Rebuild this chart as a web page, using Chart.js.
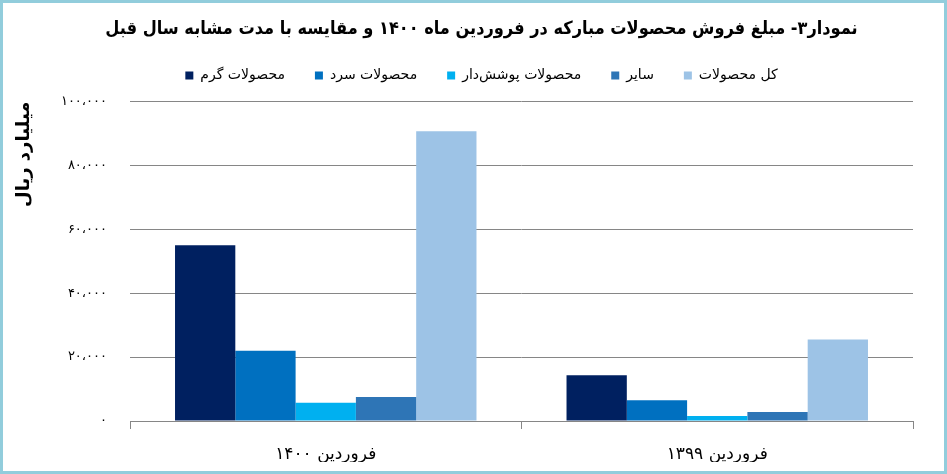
<!DOCTYPE html>
<html>
<head>
<meta charset="utf-8">
<script src="https://cdn.jsdelivr.net/npm/chart.js@4.4.1/dist/chart.umd.min.js"></script>
<style>
  html, body { margin: 0; padding: 0; background: #fff; }
  #wrap { position: relative; width: 947px; height: 474px; }
  #frame { position: absolute; left: 0; top: 0; width: 947px; height: 474px; box-sizing: border-box; border: 3px solid #92cddc; pointer-events: none; }
</style>
</head>
<body>
<div id="wrap">
  <canvas id="salesChart" dir="rtl" width="947" height="474"></canvas>
  <div id="frame"></div>
</div>
<script>
  // data (billion rials)
  const categories = ['فروردین ۱۴۰۰', 'فروردین ۱۳۹۹'];
  const seriesNames = ['محصولات گرم', 'محصولات سرد', 'محصولات پوشش‌دار', 'سایر', 'کل محصولات'];
  const hotValues = [55000, 14300];
  const coldValues = [22000, 6500];
  const coatedValues = [5700, 1600];
  const otherValues = [7500, 2800];
  const totalValues = [90700, 25500];
  const yTickLabels = ['۰', '۲۰،۰۰۰', '۴۰،۰۰۰', '۶۰،۰۰۰', '۸۰،۰۰۰', '۱۰۰،۰۰۰'];

  const colors = ['#002060', '#0070c0', '#00b0f0', '#2e75b6', '#9dc3e6'];
  const fontFa = "'DejaVu Sans', sans-serif";

  // extra room under the legend
  const legendSpacer = {
    id: 'legendSpacer',
    beforeInit(chart) {
      const origFit = chart.legend.fit;
      chart.legend.fit = function () {
        origFit.bind(chart.legend)();
        this.height += 9;
      };
    }
  };

  const values = [hotValues, coldValues, coatedValues, otherValues, totalValues];

  const ctx = document.getElementById('salesChart').getContext('2d');
  const salesChart = new Chart(ctx, {
    type: 'bar',
    data: {
      labels: categories,
      datasets: seriesNames.map((name, i) => ({
        label: name,
        data: values[i],
        backgroundColor: colors[i],
        borderWidth: 0,
        categoryPercentage: 0.77,
        barPercentage: 1.0
      }))
    },
    options: {
      responsive: false,
      animation: false,
      layout: { padding: { left: 16, right: 0, top: 0, bottom: 12 } },
      plugins: {
        title: {
          display: true,
          text: 'نمودار۳- مبلغ فروش محصولات مبارکه در فروردین ماه ۱۴۰۰ و مقایسه با مدت مشابه سال قبل',
          color: '#000',
          font: { family: "'DejaVu Sans Condensed', 'DejaVu Sans', sans-serif", size: 18, weight: 'bold' },
          padding: { top: 19, bottom: -2 }
        },
        legend: {
          display: true,
          position: 'top',
          labels: {
            color: '#000',
            boxWidth: 8,
            boxHeight: 8,
            padding: 30,
            font: { family: fontFa, size: 14 }
          }
        },
        tooltip: { enabled: false }
      },
      scales: {
        x: {
          afterFit: (scale) => { scale.height = 41; },
          grid: { display: true, drawOnChartArea: false, color: '#868686', tickLength: 8 },
          border: { display: true, color: '#868686' },
          ticks: { color: '#000', padding: 15, font: { family: fontFa, size: 17 } }
        },
        y: {
          min: 0,
          max: 100000,
          afterFit: (scale) => { scale.width = 114; },
          grid: { color: '#868686', drawTicks: false },
          border: { display: false },
          ticks: {
            stepSize: 20000,
            padding: 23,
            color: '#000',
            font: { family: fontFa, size: 13 },
            callback: (value, index) => yTickLabels[index]
          },
          title: {
            display: true,
            text: 'میلیارد ریال',
            align: 'end',
            color: '#000',
            font: { family: fontFa, size: 18, weight: 'bold' },
            padding: { top: -2, bottom: 0 }
          }
        },
        y2: {
          type: 'linear',
          position: 'right',
          afterFit: (scale) => { scale.width = 34; },
          grid: { display: false },
          border: { display: false },
          ticks: { display: false }
        }
      }
    },
    plugins: [legendSpacer]
  });
</script>
</body>
</html>
